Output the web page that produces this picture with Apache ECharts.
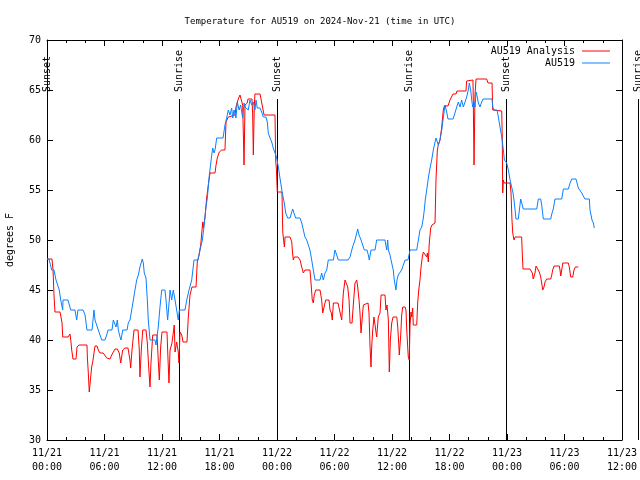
<!DOCTYPE html>
<html><head><meta charset="utf-8">
<script src="https://cdn.jsdelivr.net/npm/echarts@6/dist/echarts.min.js"></script>
<style>html,body{margin:0;padding:0;background:#fff}#c{width:640px;height:480px}</style>
</head><body><div id="c"></div>
<script>
// Hours since 2024-11-21 00:00 UTC
const analysisHours = [0.00,0.52,0.63,0.73,0.83,1.36,1.46,1.57,1.64,2.19,2.40,2.50,2.58,2.71,3.03,3.13,3.34,4.17,4.21,4.31,4.41,4.56,4.66,4.77,4.90,5.01,5.22,5.35,5.53,5.71,5.87,6.05,6.23,6.40,6.57,6.75,6.92,7.10,7.34,7.54,7.69,7.90,8.14,8.45,8.66,8.73,8.87,9.08,9.50,9.63,9.70,9.84,9.99,10.33,10.47,10.61,10.75,10.85,11.03,11.48,11.61,11.72,11.86,12.00,12.52,12.63,12.73,12.84,13.04,13.18,13.28,13.36,13.53,13.70,13.77,13.88,14.06,14.19,14.61,14.74,14.92,15.13,15.55,15.68,15.86,16.04,16.25,16.31,16.49,16.66,16.83,17.01,17.53,17.64,17.77,17.98,18.23,18.57,18.68,18.92,19.10,19.62,19.72,19.86,20.00,20.14,20.32,20.42,20.56,20.66,20.77,20.90,20.97,21.39,21.46,21.53,21.63,21.70,22.23,22.40,22.51,22.65,23.79,23.87,23.93,24.03,24.52,24.60,24.77,24.84,25.36,25.54,25.60,25.70,25.81,26.19,26.40,26.58,26.75,26.92,27.44,27.55,27.68,27.79,27.89,28.04,28.49,28.66,28.77,28.94,29.08,29.43,29.53,29.67,29.77,29.88,30.37,30.57,30.75,30.92,31.10,31.27,31.38,31.52,31.62,31.83,31.96,32.14,32.32,32.42,32.56,32.66,32.77,32.90,33.01,33.18,33.50,33.60,33.71,33.81,33.88,33.99,34.12,34.23,34.40,34.51,34.57,34.75,34.86,35.27,35.37,35.48,35.62,35.72,35.83,35.97,36.11,36.50,36.60,36.71,36.76,36.91,37.01,37.12,37.36,37.46,37.54,37.64,37.70,37.80,37.88,37.98,38.06,38.16,38.22,38.58,38.68,38.79,38.92,39.03,39.16,39.27,39.45,39.62,39.69,39.79,39.89,40.04,40.17,40.49,40.59,40.73,40.83,41.01,41.19,41.35,41.46,41.84,41.95,42.05,42.23,42.37,42.68,42.78,43.72,43.79,43.93,44.45,44.48,44.56,44.66,44.77,45.88,46.02,46.44,46.51,47.45,47.51,47.55,47.62,47.70,48.32,48.42,48.52,48.60,48.73,48.84,49.53,49.60,49.67,50.40,50.50,50.64,50.74,50.92,51.03,51.16,51.37,51.52,51.62,51.73,51.86,51.97,52.14,52.56,52.67,52.77,52.91,53.46,53.53,53.61,53.71,53.82,54.40,54.50,54.65,54.86,54.99,55.13,55.44];
const analysisTemps = [48.1,48.1,47,44.5,42.8,42.8,42.3,41.7,40.3,40.3,40.6,39.8,39,38.1,38.1,39.3,39.5,39.5,38.3,36.7,34.8,36.3,37.3,37.8,38,39.4,39.4,39,38.7,38.5,38.7,38.7,38.2,38,38.1,38.5,38.8,39.1,39.1,38.7,37.7,39,39.2,39.2,38,37.2,39,41,41,39,36.3,39,41,41,39.7,37.3,35.3,37.7,40.5,40.5,38,36,39.3,40.8,40.8,38,35.7,39,39.7,39.7,41.5,38.8,39.8,38.8,37.7,40.8,40.5,39.8,39.8,42.2,44.5,45.3,45.3,47.8,48.5,49.5,51.8,51.2,52.3,54.2,55.5,56.7,56.7,57.5,58.2,58.8,59,59,61.8,62.3,62.5,62.5,63.3,63.8,64.2,64.5,64.4,63.5,57.5,63.5,63.3,63.7,64.1,64.1,62.5,58.5,63.5,64.6,64.6,64.4,63.2,62.5,62.5,57.8,57.2,54.8,54.8,50.8,49.3,50.3,50.3,49.8,49,48,48.3,48.3,48,47.3,46.7,47,47,45.7,44,43.7,44.5,45,45,44,42.7,42.7,44,44,43,42.7,42,43.7,43.7,42.8,42,44.7,46,46.1,45.3,44,41.7,41.7,43.5,45.7,46,45.3,44,42.7,40.7,42.3,43.5,43.7,43.7,42.7,39.3,37.3,39.3,41,42.3,42.2,40.3,40.2,42.3,42.7,44.5,44.5,43,43.5,42,36.8,40,41.7,42.3,42.3,41.3,39.5,38.5,40.5,42.5,43.3,43.3,43,41,39.3,38.3,38,41.5,42.8,42.3,43.2,41.5,41.5,43.7,45,46,47.3,48.3,48.8,49,48.3,48.7,47.8,49.7,51.2,51.5,51.7,56,59,59.5,60,61.3,63,63.4,63.4,63.7,64,64.1,64.6,64.6,64.9,64.9,65.9,66,66,64,57.5,64.5,66.1,66.1,65.7,65.7,63,62.9,60,54.7,56,55.7,55.7,54.7,52,50.7,50,50.3,50.3,48.5,47.1,47.1,47.3,46.7,46.1,46.7,47.4,47.4,46.8,46.3,45.7,45,45.3,45.8,46.1,46.1,46.5,47,47.4,47.4,47,46.4,47,47.7,47.7,47.3,46.3,46.3,47,47.3,47.3];
const obsHours = [0.00,0.21,0.49,0.73,0.94,1.18,1.28,1.43,1.64,1.67,2.19,2.47,2.92,3.10,3.23,3.76,3.97,4.17,4.70,4.90,5.01,5.35,5.71,6.05,6.23,6.37,6.78,6.92,7.10,7.20,7.34,7.44,7.62,7.72,7.90,8.35,8.48,8.66,8.84,9.01,9.18,9.36,9.53,9.70,9.94,10.05,10.15,10.33,10.47,10.57,10.75,11.27,11.37,11.61,11.79,11.97,12.31,12.42,12.59,12.76,12.84,13.01,13.18,13.36,13.53,13.70,13.81,14.40,14.58,14.82,15.10,15.34,15.76,15.97,16.21,16.38,16.59,16.73,16.94,17.19,17.29,17.43,17.53,17.71,18.37,18.57,18.75,18.92,19.10,19.27,19.38,19.51,19.72,19.86,20.04,20.21,20.42,20.56,20.66,20.84,21.00,21.18,21.36,21.53,21.70,21.81,21.94,22.23,22.40,22.57,22.85,22.99,23.09,23.27,23.45,23.61,23.79,23.97,24.14,24.31,24.42,24.55,24.76,24.91,25.12,25.36,25.54,25.64,25.77,25.95,26.40,26.58,26.75,26.92,27.10,27.27,27.44,27.62,27.79,27.97,28.49,28.66,28.83,29.01,29.19,29.35,29.88,30.05,30.23,30.40,31.41,31.62,31.80,31.96,32.14,32.32,32.42,32.56,32.77,32.90,33.11,33.39,33.53,33.63,33.81,34.23,34.40,35.27,35.45,35.55,35.62,35.79,35.97,36.13,36.24,36.41,36.52,36.65,37.01,37.18,37.36,37.67,37.88,38.58,38.75,38.92,39.10,39.27,39.37,39.47,39.62,39.79,39.97,40.14,40.31,40.49,40.59,40.73,40.83,41.01,41.19,41.35,41.46,41.53,41.71,41.84,42.37,42.57,42.75,42.92,43.10,43.27,43.44,43.62,43.79,43.96,44.07,44.21,44.32,44.42,44.56,44.66,44.77,44.90,45.01,45.18,45.36,45.50,46.44,46.51,46.65,46.96,47.10,47.27,47.45,47.62,47.73,47.87,47.97,48.14,48.32,48.49,48.63,48.73,48.84,48.94,49.18,49.29,49.43,49.57,49.70,51.10,51.27,51.52,51.62,51.79,52.56,52.67,52.83,53.01,53.71,53.88,54.40,54.58,54.76,55.20,55.31,55.44,55.62,55.80,55.96,56.14,56.59,56.66,56.77,56.87,57.01,57.11];
const obsTemps = [48.1,48.1,47,47,46,45.3,45,44,43,44,44,43,43,42,43,43,42.5,41,41,43,42,41,40,40,40.5,41,41,42,42,41.3,42,41,40.3,40,41,41,41.7,42,43,44,45,46,46.5,47.3,48.1,47.7,46.7,46.2,44,42,40,40,39.5,41.3,43.3,45,45,44,42,44,45,44,45,44,43,42,43,43,44,45,46,48,48,49,50,51.3,53.3,54.2,56.5,58.5,59.2,58.7,59,60.2,60.2,61.5,62.2,63,62.5,63.2,62.2,63,62.2,63.8,63,63.5,62.2,63.7,63.3,63.5,63,64,63.5,63.8,63,64,63.2,63.2,62.8,62.3,62.3,61.8,60.7,60.2,59.8,59.2,58.7,58.2,57.3,56.2,56,54.7,53.7,52.7,52.2,52.2,52.8,53.1,52.7,52.2,52.2,51.7,51,50.3,50,49.8,49,48,47,46,46,46.7,46,46.7,47,48,48,49,48.5,48,48,48.3,49,49.5,50,50.7,51.1,50.5,50,49.8,49,49,48.5,48,49,49,50,50,49,50,49,48.5,47.7,47,46,45,46,46.5,47,47.5,48,48,49,49,50,51,51.3,52.2,53,54,55,56.2,57.2,58,59,59.8,60.2,59.8,59.5,60,61,61.2,63,63.5,62.8,62.1,62.1,62.7,63.3,63.8,63.3,64,63.3,63.8,64.3,65,65.7,65,64,63.3,63.8,63.3,64.8,64.3,63.7,63.3,63.8,64.1,64.1,63.3,63,63,62.3,61.3,60.3,59,58,58,57.7,57,56,55.3,54.7,54,53,52.1,52.1,53,54.1,54.1,53.1,53.1,54.1,54.1,53.5,52.1,52.1,52.6,53.1,54.1,54.1,55.1,55.1,55.7,56.1,56.1,55.7,55.2,55,54.7,54.4,54.1,54.1,53,52.5,52,51.7,51.2];
const sunEventHours = [0.0, 13.77, 24.0, 37.78, 47.9, 61.67];
const sunEventNames = ['Sunset','Sunrise','Sunset','Sunrise','Sunset','Sunrise'];
const xTickHours = {min: 0, max: 60, step: 6};
const yTicks = {min: 30, max: 70, step: 5};
const seriesNames = ['AU519 Analysis', 'AU519'];
const titleText = 'Temperature for AU519 on 2024-Nov-21 (time in UTC)';

const MONO = 'DejaVu Sans Mono';
const zip = (a, b) => a.map((v, i) => [v, b[i]]);
const fmtX = v => {
  const day = 21 + Math.floor(v / 24);
  const hh = Math.round(v % 24);
  return '11/' + day + '\n' + String(hh).padStart(2, '0') + ':00';
};
const baseX = (pos, showLabel) => ({
  type: 'value', position: pos, min: xTickHours.min, max: xTickHours.max, interval: xTickHours.step,
  axisLine: {onZero: false, lineStyle: {color: '#000', width: 1}},
  axisTick: {inside: true, length: 6, lineStyle: {color: '#000'}},
  minorTick: {show: true, splitNumber: 3, length: 3, lineStyle: {color: '#000'}},
  splitLine: {show: false},
  axisLabel: showLabel ? {formatter: fmtX, color: '#000', fontFamily: MONO, fontSize: 10, lineHeight: 14, margin: 6} : {show: false}
});
const baseY = (pos, showLabel) => ({
  type: 'value', position: pos, min: yTicks.min, max: yTicks.max, interval: yTicks.step,
  axisLine: {onZero: false, lineStyle: {color: '#000', width: 1}},
  axisTick: {inside: true, length: 6, lineStyle: {color: '#000'}},
  splitLine: {show: false},
  axisLabel: showLabel ? {color: '#000', fontFamily: MONO, fontSize: 10, margin: 6} : {show: false}
});
const chart = echarts.init(document.getElementById('c'), null, {renderer: 'canvas'});
const yLeft = baseY('left', true);
Object.assign(yLeft, {name: 'degrees F', nameLocation: 'middle', nameGap: 32, nameRotate: 90,
  nameTextStyle: {color: '#000', fontFamily: MONO, fontSize: 10}});
chart.setOption({
  animation: false,
  backgroundColor: '#fff',
  title: {text: titleText, left: 'center', top: 12, textStyle: {color: '#000', fontFamily: MONO, fontSize: 9, fontWeight: 'normal'}},
  legend: {
    orient: 'vertical', right: 25, top: 40, align: 'right', itemGap: 0,
    itemWidth: 28, itemHeight: 1, icon: 'rect',
    textStyle: {color: '#000', fontFamily: MONO, fontSize: 10, lineHeight: 12, padding: [0, 2, 0, 0]},
    data: seriesNames
  },
  grid: {left: 47, right: 18, top: 40, bottom: 40, containLabel: false, outerBoundsMode: 'none'},
  xAxis: [baseX('bottom', true), baseX('top', false)],
  yAxis: [yLeft, baseY('right', false)],
  series: [
    {name: seriesNames[0], type: 'line', data: zip(analysisHours, analysisTemps), showSymbol: false, symbol: 'none',
     lineStyle: {color: '#ff0000', width: 1}, itemStyle: {color: '#ff0000'}, z: 3},
    {name: seriesNames[1], type: 'line', data: zip(obsHours, obsTemps), showSymbol: false, symbol: 'none',
     lineStyle: {color: '#0a80ff', width: 1}, itemStyle: {color: '#0a80ff'}, z: 4},
    {type: 'custom', clip: false, silent: true, z: 2,
     data: sunEventHours.map(h => [h, yTicks.min]),
     encode: {x: 0, y: 1},
     renderItem: (params, api) => {
       const h = api.value(0);
       const bottom = api.coord([h, yTicks.min]);
       const top = api.coord([h, 64.1]);
       const x = Math.round(bottom[0]) + 0.5;
       return {type: 'group', children: [
         {type: 'line', shape: {x1: x, y1: bottom[1], x2: x, y2: top[1]}, style: {stroke: '#000', lineWidth: 1}},
         {type: 'text', x: x, y: top[1] - 7, rotation: Math.PI / 2,
          style: {text: sunEventNames[params.dataIndex], font: '10px "DejaVu Sans Mono"', fill: '#000', align: 'left', verticalAlign: 'middle'}}
       ]};
     }}
  ]
});
</script></body></html>
